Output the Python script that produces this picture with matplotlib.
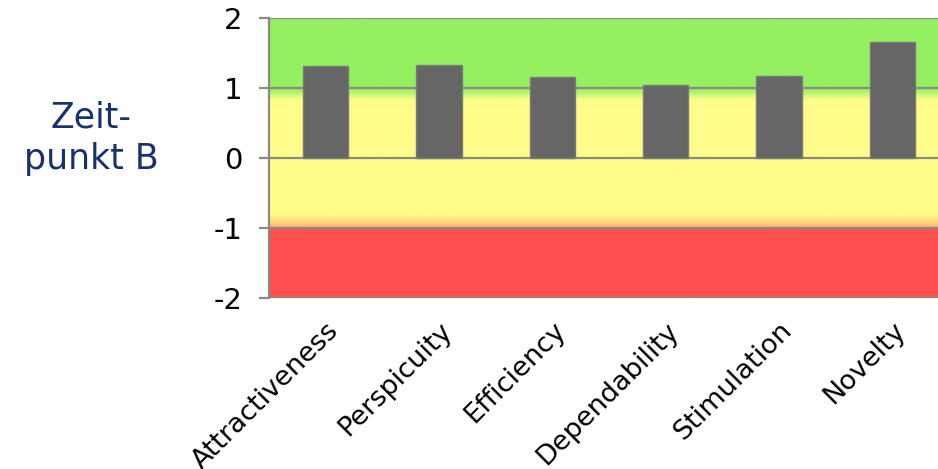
import numpy as np
import matplotlib.pyplot as plt

categories = ['Attractiveness', 'Perspicuity', 'Efficiency',
              'Dependability', 'Stimulation', 'Novelty']
values = [1.31, 1.33, 1.16, 1.04, 1.17, 1.66]
yticks = [-2, -1, 0, 1, 2]
row_label = 'Zeit-\npunkt B'


def band_colors(y):
    # background: red below -1, yellow in the middle, green above 1,
    # with short fades at the borders
    green = np.array([148, 240, 96]) / 255
    yellow = np.array([255, 252, 138]) / 255
    orange = np.array([255, 170, 100]) / 255
    red = np.array([255, 80, 80]) / 255
    stops = [-2.0, -1.0, -0.995, -0.93, -0.80, 0.83, 0.99, 1.0, 2.0]
    cols = [red, red, orange, (orange + yellow) / 2, yellow, yellow,
            green, green, green]
    cols = np.array(cols)
    out = np.zeros((len(y), 3))
    for c in range(3):
        out[:, c] = np.interp(y, stops, cols[:, c])
    return out


def create_plot():
    fig = plt.figure(figsize=(9.38, 4.69), dpi=100)
    ax = fig.add_axes([0.2868, 0.3646, 0.725, 0.597])

    x = np.arange(len(categories))
    xlim = (-0.5, len(categories) - 0.5)

    yy = np.linspace(2, -2, 800)
    img = band_colors(yy)[:, None, :]
    ax.imshow(img, extent=[xlim[0], xlim[1], -2, 2], aspect='auto',
              interpolation='bilinear', zorder=0)

    for t in yticks:
        ax.axhline(t, color='#8a8a8a', lw=1.6, zorder=1)

    ax.bar(x, values, width=0.4, color='#666666', edgecolor='#7a7a7a',
           linewidth=1.0, zorder=2)

    ax.set_xlim(*xlim)
    ax.set_ylim(-2, 2)
    ax.set_yticks(yticks)
    ax.set_yticklabels([str(t) for t in yticks], fontsize=21)
    ax.set_xticks(x)
    ax.set_xticklabels(categories, fontsize=19.5, rotation=45,
                       ha='right', rotation_mode='anchor')
    ax.tick_params(axis='y', length=7, width=1.6, color='#8a8a8a', pad=12)
    ax.tick_params(axis='x', length=0, pad=14)

    for s in ['top', 'right', 'bottom']:
        ax.spines[s].set_visible(False)
    ax.spines['left'].set_color('#8a8a8a')
    ax.spines['left'].set_linewidth(1.6)

    fig.text(0.097, 0.705, row_label, ha='center', va='center',
             fontsize=25, color='#17306e', linespacing=1.25)

    fig.savefig('out.png', dpi=100)


if __name__ == '__main__':
    create_plot()
